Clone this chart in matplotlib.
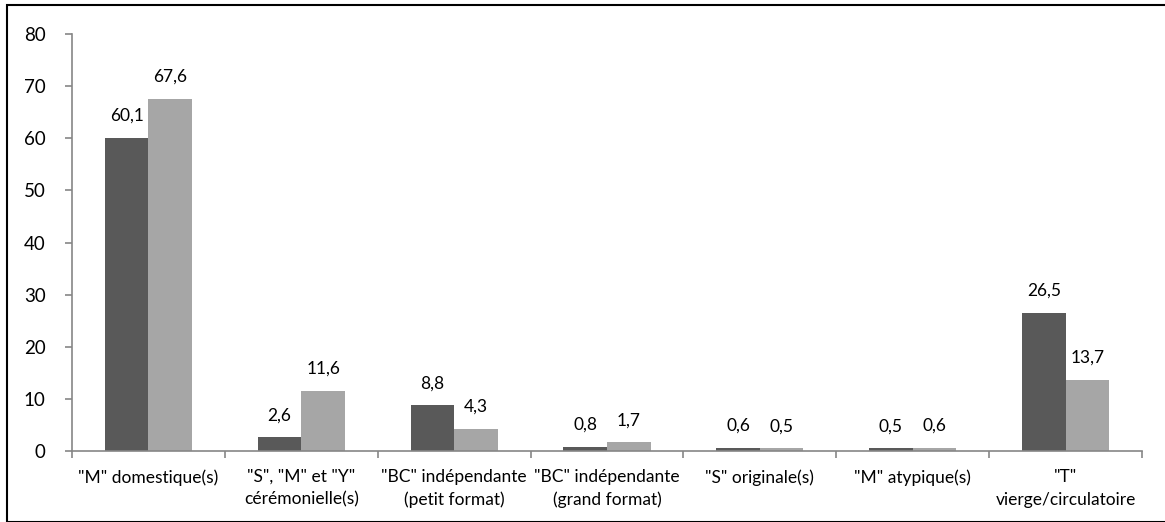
import matplotlib
matplotlib.use("Agg")
import matplotlib.pyplot as plt
import numpy as np
from matplotlib.patches import Rectangle

categories = ['"M" domestique(s)', '"S", "M" et "Y"\ncérémonielle(s)',
              '"BC" indépendante\n(petit format)', '"BC" indépendante\n(grand format)',
              '"S" originale(s)', '"M" atypique(s)', '"T"\nvierge/circulatoire']
series1 = [60.1, 2.6, 8.8, 0.8, 0.6, 0.5, 26.5]
series2 = [67.6, 11.6, 4.3, 1.7, 0.5, 0.6, 13.7]
yticks = [0, 10, 20, 30, 40, 50, 60, 70, 80]

plt.rcParams['font.family'] = ['Lato', 'DejaVu Sans']

W, H = 1165, 522
fig = plt.figure(figsize=(W/100, H/100), dpi=100)
ax = fig.add_axes([72/W, 71/H, (1142-72)/W, (451-34)/H])

x = np.arange(len(categories))
bw = 0.285
ax.bar(x - bw/2, series1, bw, color='#595959')
ax.bar(x + bw/2, series2, bw, color='#a6a6a6')

for xi, v in zip(x, series1):
    ax.annotate(f"{v:.1f}".replace('.', ','), (xi - bw/2, v), xytext=(0, 10),
                textcoords='offset points', ha='center', va='bottom', fontsize=12.5)
for xi, v in zip(x, series2):
    ax.annotate(f"{v:.1f}".replace('.', ','), (xi + bw/2, v), xytext=(0, 10),
                textcoords='offset points', ha='center', va='bottom', fontsize=12.5)

ax.set_xlim(-0.5, len(categories) - 0.5)
ax.set_ylim(0, 80)
ax.set_yticks(yticks)
ax.tick_params(axis='y', labelsize=13.5, length=5, color='#868686', width=1.2, pad=14)

ax.set_xticks(np.arange(len(categories) + 1) - 0.5)
ax.set_xticklabels([])
ax.set_xticks(x, minor=True)
ax.set_xticklabels(categories, minor=True, fontsize=12.5, linespacing=1.5, va='top')
ax.tick_params(axis='x', which='major', length=5, color='#868686', width=1.2)
ax.tick_params(axis='x', which='minor', length=0, pad=13)

for s in ['top', 'right']:
    ax.spines[s].set_visible(False)
for s in ['left', 'bottom']:
    ax.spines[s].set_color('#868686')
    ax.spines[s].set_linewidth(1.2)

fig.patches.append(Rectangle((7/W, 0), 1.2, (H-5)/H, transform=fig.transFigure,
                             fill=False, edgecolor='black', linewidth=1.5))

fig.savefig('out.png', dpi=100)
